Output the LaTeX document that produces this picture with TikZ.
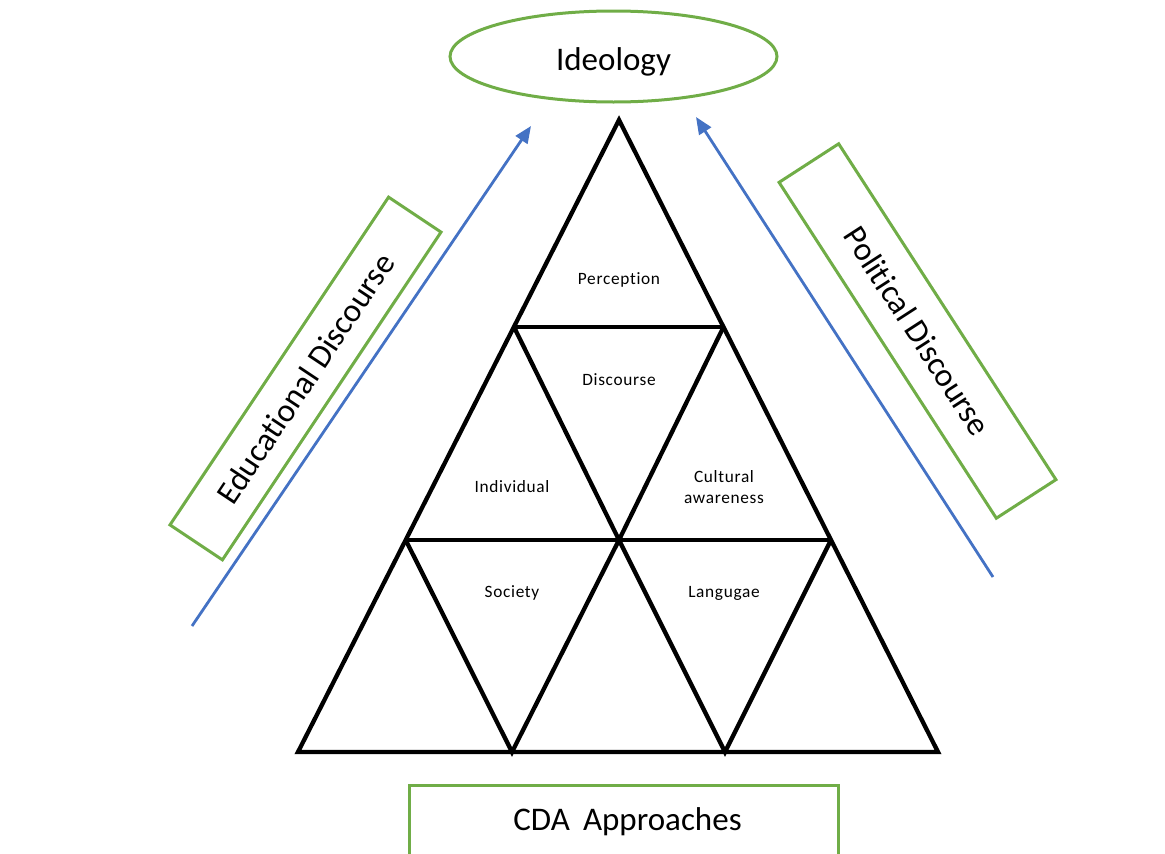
\documentclass[tikz,border=0pt]{standalone}
\usepackage{fontspec}
\setmainfont{Carlito}[Ligatures=NoCommon]
\newfontfamily\smallf{Carlito}[Ligatures=NoCommon,LetterSpace=4]
\usetikzlibrary{arrows.meta,shapes.geometric}
\definecolor{grn}{HTML}{70AD47}
\definecolor{blu}{HTML}{4472C4}
\begin{document}
\begin{tikzpicture}[x=1pt,y=-1pt,
  tri/.style={draw=black,line width=4.3pt,line join=miter},
  greenbox/.style={draw=grn,line width=3pt,inner sep=0pt},
  bigtext/.style={font=\fontsize{33}{38}\selectfont},
  lbl/.style={font=\smallf\fontsize{17.3}{21}\selectfont,align=center,inner sep=0pt},
  arr/.style={draw=blu,line width=2.8pt,-{Triangle[length=17pt,width=14pt]}}]
\useasboundingbox (0,0) rectangle (1165,854);
\clip (0,0) rectangle (1165,854);
% triangle grid
\coordinate (A) at (619,120);
\coordinate (L1) at (514,327);
\coordinate (R1) at (723.5,327);
\coordinate (L2) at (405.7,540);
\coordinate (M2) at (619,540);
\coordinate (R2) at (831,540);
\coordinate (B0) at (298,752);
\coordinate (B1) at (512,752);
\coordinate (B2) at (725,752);
\coordinate (B3) at (938,752);
\draw[tri] (A) -- (B0) -- (B3) -- cycle;
\draw[tri] (L1) -- (R1);
\draw[tri] (L2) -- (R2);
\draw[tri] (L1) -- (M2) -- (R1);
\draw[tri] (L2) -- (B1) -- (M2) -- (B2) -- (R2);
% labels
\node[lbl] (perc) at (619,280) {Perception};
\node[lbl] (disc) at (619,380) {Discourse};
\node[lbl] (indi) at (512,487) {Individual};
\node[lbl] (cult) at (724,487) {Cultural\\awareness};
\node[lbl] (soci) at (512,593) {Society};
\node[lbl] (lang) at (724,593) {Langugae};
% ideology
\node[greenbox,ellipse,bigtext,minimum width=327pt,minimum height=91pt,
      text height=27pt,text depth=0pt] (ideo) at (613.5,56.5) {Ideology};
% side boxes
\node[greenbox,bigtext,rotate=56.3,minimum width=394pt,minimum height=63pt] (edu) at (305.5,378.5) {Educational Discourse};
\node[greenbox,bigtext,rotate=-57.1,minimum width=400pt,minimum height=71pt] (pol) at (917.5,331) {Political Discourse};
% CDA box
\node[greenbox,bigtext,minimum width=429pt,minimum height=84pt,
      text height=10pt,text depth=4pt] (cda) at (623.5,827) {\hspace{8pt}CDA\hspace{0.4em}Approaches};
% arrows
\coordinate (eS) at (192,626);
\coordinate (eT) at (531,126);
\coordinate (pS) at (993,577);
\coordinate (pT) at (696,117);
\draw[arr] (eS) -- (eT);
\draw[arr] (pS) -- (pT);
\end{tikzpicture}
\end{document}
